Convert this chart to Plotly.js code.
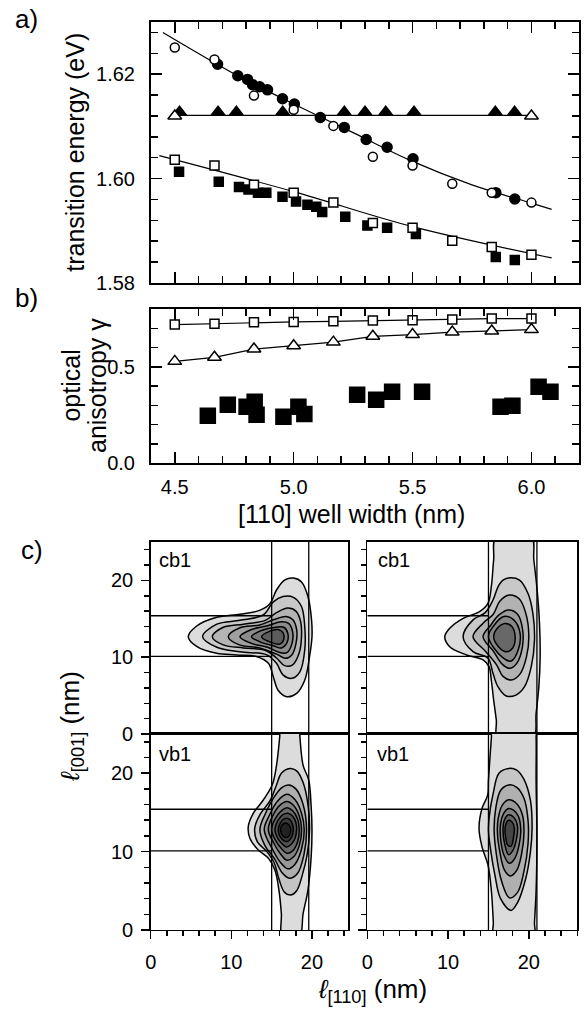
<!DOCTYPE html>
<html><head><meta charset="utf-8">
<script src="https://cdn.plot.ly/plotly-3.0.1.min.js"></script>
<style>html,body{margin:0;padding:0;background:#fff}#chart{width:588px;height:1011px}</style>
</head><body><div id="chart"></div>
<script>
// ---------- Panel a data ----------
const widthsCalc = [4.5, 4.667, 4.833, 5.0, 5.167, 5.333, 5.5, 5.667, 5.833, 6.0];
const aOpenCircleE = [1.6251, 1.6228, 1.6159, 1.6132, 1.6101, 1.6042, 1.6025, 1.5990, 1.5973, 1.5954];
const aOpenSquareE = [1.6036, 1.6025, 1.5988, 1.5973, 1.5954, 1.5915, 1.5906, 1.5881, 1.5869, 1.5854];
const aOpenTriW = [4.5, 6.0];
const aOpenTriE = [1.6120, 1.6120];
const aFillTriW = [4.52, 4.682, 4.759, 4.954, 5.213, 5.30, 5.387, 5.506, 5.848, 5.929];
const aFillTriE = [1.6127, 1.6127, 1.6127, 1.6127, 1.6127, 1.6127, 1.6127, 1.6127, 1.6127, 1.6127];
const aFillCircleW = [4.68, 4.765, 4.806, 4.827, 4.857, 4.89, 4.953, 5.003, 5.112, 5.213, 5.305, 5.393, 5.502, 5.85, 5.93];
const aFillCircleE = [1.6219, 1.6197, 1.6190, 1.6180, 1.6176, 1.6170, 1.6153, 1.6143, 1.6117, 1.6098, 1.6075, 1.6060, 1.6038, 1.5973, 1.5961];
const aFillSquareW = [4.518, 4.685, 4.77, 4.81, 4.85, 4.885, 4.953, 5.01, 5.058, 5.095, 5.12, 5.217, 5.31, 5.393, 5.514, 5.85, 5.93];
const aFillSquareE = [1.6013, 1.5994, 1.5984, 1.5979, 1.5973, 1.5973, 1.5965, 1.5956, 1.5950, 1.5946, 1.5936, 1.5927, 1.5910, 1.5906, 1.5894, 1.5850, 1.5844];
const fitCircleW = [4.45, 4.765, 5.0, 5.25, 5.5, 5.75, 6.0, 6.085];
const fitCircleE = [1.6280, 1.6197, 1.6143, 1.6088, 1.6033, 1.5988, 1.5953, 1.5941];
const fitSquareW = [4.435, 5.0, 5.5, 6.085];
const fitSquareE = [1.6044, 1.5975, 1.5908, 1.5848];
const fitTriW = [4.5, 6.0];
const fitTriE = [1.6121, 1.6121];

// ---------- Panel b data ----------
const bOpenSquareG = [0.719, 0.724, 0.731, 0.733, 0.736, 0.740, 0.741, 0.745, 0.750, 0.750];
const bOpenTriG = [0.528, 0.549, 0.592, 0.609, 0.628, 0.658, 0.667, 0.680, 0.686, 0.693];
const bFillSquareW = [4.639, 4.723, 4.802, 4.836, 4.844, 4.957, 5.02, 5.045, 5.267, 5.347, 5.414, 5.54, 5.87, 5.92, 6.03, 6.08];
const bFillSquareG = [0.245, 0.302, 0.292, 0.318, 0.250, 0.240, 0.292, 0.255, 0.354, 0.328, 0.370, 0.370, 0.292, 0.297, 0.396, 0.370];

// ---------- Panel c data (contour outlines, [l110, l001] in nm) ----------
const wellEdgesLeft = [15.0, 19.6];
const wellEdgesRight = [15.0, 21.0];
const wireEdges = [10.1, 15.4];
const cbLeft = [
 [[4.66,12.67],[5.7,14.06],[8.18,15.2],[11.07,15.6],[13.5,16.1],[14.8,17.0],[15.6,18.75],[16.6,20.05],[17.7,20.3],[18.7,19.8],[19.5,17.9],[19.95,14.8],[20.0,12.67],[19.7,10.1],[19.1,7.0],[18.1,5.3],[16.85,4.86],[15.8,5.7],[15.2,7.46],[14.6,9.2],[13.1,10.1],[10.66,10.3],[8.18,10.5],[5.7,11.4]],
 [[6.44,12.67],[8.2,14.3],[11.07,14.8],[13.95,15.5],[15.2,17.2],[16.4,17.9],[17.7,17.8],[18.7,16.6],[19.1,14.0],[19.1,10.9],[18.5,8.1],[17.5,7.25],[16.4,7.7],[15.6,9.2],[14.4,10.3],[11.07,10.7],[8.2,11.3]],
 [[7.64,12.67],[9.0,13.9],[11.5,14.3],[14.2,14.8],[15.6,15.8],[17.0,16.4],[18.0,16.0],[18.6,14.6],[18.7,12.67],[18.4,10.5],[17.6,9.0],[16.6,8.9],[15.6,9.9],[14.2,10.9],[11.5,11.2],[9.0,11.6]],
 [[9.62,12.67],[11.0,13.8],[13.5,14.2],[15.3,14.9],[16.8,15.3],[17.6,14.9],[18.1,13.6],[18.0,11.7],[17.5,10.3],[16.7,9.85],[15.6,10.4],[13.5,11.2],[11.0,11.6]],
 [[11.07,12.67],[12.5,13.6],[14.5,14.1],[16.2,14.6],[17.1,14.4],[17.6,13.3],[17.5,11.7],[16.9,10.6],[16.0,10.6],[14.5,11.3],[12.5,11.8]],
 [[12.5,12.67],[13.8,13.5],[15.5,13.9],[16.5,13.9],[17.0,13.1],[16.9,11.9],[16.2,11.2],[15.2,11.5],[13.8,11.9]],
 [[13.75,12.67],[14.8,13.4],[15.8,13.6],[16.4,13.2],[16.5,12.3],[16.0,11.7],[15.0,11.9]]
];
const cbRight = [
 [[15.97,25.7],[15.64,22.66],[15.35,19.18],[14.94,17.0],[13.9,15.93],[11.86,15.06],[10.2,13.76],[9.59,12.67],[10.2,11.37],[12.27,10.29],[14.33,9.64],[15.07,8.77],[15.35,7.03],[15.64,4.43],[15.97,1.82],[16.17,-0.78],[20.49,-0.78],[20.9,2.69],[21.24,6.16],[21.4,10.07],[21.32,14.41],[21.03,18.75],[20.62,22.66],[20.29,25.7]],
 [[11.86,12.67],[13.09,14.86],[14.6,15.8],[15.56,17.45],[16.2,19.2],[16.8,20.05],[17.7,20.35],[18.85,20.05],[19.9,18.3],[20.5,15.7],[20.7,12.24],[20.3,8.77],[19.47,6.16],[18.4,5.07],[17.2,4.95],[16.17,6.16],[15.56,7.9],[14.94,9.85],[13.09,10.72]],
 [[13.09,12.67],[14.3,14.4],[15.6,15.6],[16.4,17.3],[17.6,18.1],[18.8,17.6],[19.6,15.8],[20.0,12.8],[19.7,10.0],[18.9,7.8],[17.8,7.03],[16.8,7.5],[16.0,9.0],[14.6,10.8]],
 [[14.33,12.67],[15.3,14.2],[16.3,15.5],[17.5,16.15],[18.6,15.6],[19.2,13.8],[19.2,11.3],[18.5,9.2],[17.6,8.55],[16.7,9.1],[15.6,10.8]],
 [[15.0,12.67],[15.8,14.3],[16.9,15.3],[18.1,14.9],[18.9,13.2],[18.7,11.0],[17.8,9.5],[16.7,10.0]],
 [[15.64,12.67],[16.2,13.9],[17.0,14.4],[17.9,14.0],[18.3,12.7],[18.0,11.2],[17.2,10.7],[16.3,11.3]]
];
const vbLeft = [
 [[16.1,26],[16.0,24.66],[15.6,21.0],[15.1,18.6],[13.96,16.58],[12.72,14.88],[12.1,13.2],[12.3,11.7],[13.34,10.2],[14.6,9.14],[15.4,7.65],[15.9,5.1],[16.2,2.1],[16.35,-1],[18.4,-1],[18.9,2.1],[19.5,5.1],[19.9,9.35],[20.0,12.76],[19.9,15.7],[19.6,19.1],[18.9,21.0],[18.5,24.66],[18.4,26]],
 [[12.9,13.0],[13.2,11.3],[14.4,10.0],[15.3,8.6],[15.9,6.5],[16.6,4.8],[17.4,4.46],[18.1,5.0],[18.8,7.0],[19.4,9.6],[19.7,12.8],[19.5,16.0],[18.9,18.8],[18.1,20.3],[17.26,20.6],[16.2,20.0],[15.6,18.5],[14.8,16.5],[13.6,14.8]],
 [[13.54,12.8],[14.2,10.7],[15.4,9.0],[16.3,7.3],[17.2,6.6],[18.2,7.2],[19.0,9.6],[19.33,12.8],[18.9,16.0],[18.0,18.0],[17.1,18.5],[16.3,18.2],[15.2,16.8],[14.2,14.8]],
 [[14.08,12.8],[15.1,10.3],[16.1,8.6],[17.0,7.8],[17.9,8.4],[18.7,10.3],[19.04,12.8],[18.7,14.9],[17.9,16.6],[16.9,17.3],[15.7,16.4],[14.7,14.6]],
 [[14.58,12.8],[15.3,11.0],[16.1,9.7],[16.9,8.9],[17.7,9.3],[18.4,10.7],[18.71,12.8],[18.4,14.6],[17.7,15.9],[16.9,16.4],[16.0,15.9],[15.1,14.5]],
 [[14.99,12.8],[15.5,11.4],[16.2,10.4],[16.9,9.8],[17.6,10.1],[18.2,11.2],[18.42,12.8],[18.2,14.2],[17.6,15.2],[16.9,15.6],[16.3,15.3],[15.5,14.3]],
 [[15.4,12.8],[15.7,11.8],[16.2,11.1],[16.8,10.6],[17.4,10.9],[17.9,11.7],[18.09,12.8],[18.0,13.7],[17.6,14.5],[17.0,14.9],[16.4,14.7],[15.8,14.0]],
 [[15.82,12.8],[16.0,12.0],[16.5,11.4],[17.0,11.3],[17.5,11.9],[17.68,12.8],[17.5,13.7],[17.1,14.2],[16.6,14.2],[16.1,13.7]],
 [[16.1,12.8],[16.4,12.0],[16.9,11.8],[17.3,12.3],[17.3,13.1],[16.9,13.6],[16.4,13.5]]
];
const vbRight = [
 [[15.5,26],[15.36,24.5],[15.0,19.1],[14.9,17.2],[14.2,15.5],[13.83,13.0],[14.2,10.6],[14.94,8.3],[15.35,5.1],[15.6,1.0],[15.7,-1],[20.6,-1],[20.7,1.0],[20.9,5.0],[21.0,12.0],[20.9,19.0],[20.9,24.5],[20.8,26]],
 [[17.5,20.6],[16.3,20.0],[15.6,17.5],[15.1,14.5],[15.0,12.7],[15.3,10.0],[15.8,7.0],[16.5,4.0],[17.8,2.5],[18.6,3.5],[19.6,6.5],[20.2,10.0],[20.4,13.0],[20.2,16.5],[19.4,19.2],[18.5,20.4]],
 [[17.5,18.5],[16.5,17.8],[15.9,15.5],[15.7,12.7],[16.0,9.5],[16.6,6.3],[17.6,4.1],[18.6,4.8],[19.4,7.5],[19.9,11.0],[19.9,14.0],[19.4,16.8],[18.5,18.2]],
 [[17.5,16.6],[16.7,15.9],[16.2,14.2],[16.1,12.7],[16.4,10.0],[17.0,7.6],[17.7,6.9],[18.5,7.6],[19.1,9.7],[19.4,12.4],[19.2,14.7],[18.5,16.1]],
 [[17.5,15.5],[16.9,14.9],[16.5,13.6],[16.5,11.7],[16.9,9.6],[17.6,8.5],[18.3,9.2],[18.8,10.9],[19.0,12.8],[18.7,14.5],[18.1,15.3]],
 [[17.5,14.7],[17.0,14.1],[16.8,12.8],[17.0,11.0],[17.5,9.6],[18.1,10.3],[18.5,11.8],[18.6,13.2],[18.2,14.3]],
 [[17.5,14.0],[17.1,13.3],[17.1,12.0],[17.4,10.8],[17.8,10.7],[18.1,11.8],[18.2,13.0],[17.9,13.8]]
];
const shadesCbLeft = ['#dcdcdc','#c8c8c8','#b4b4b4','#a0a0a0','#8c8c8c','#787878','#5c5c5c'];
const shadesCbRight = ['#dcdcdc','#c8c8c8','#b2b2b2','#9c9c9c','#868686','#686868'];
const shadesVbLeft = ['#dcdcdc','#c4c4c4','#aeaeae','#989898','#808080','#686868','#505050','#383838','#222222'];
const shadesVbRight = ['#dcdcdc','#c6c6c6','#b0b0b0','#989898','#808080','#646464','#464646'];

// ---------- build ----------
const FONT = '"Liberation Sans", Arial, Helvetica, sans-serif';
const traces = [];
function line(x, y, xa, ya) {
  traces.push({x, y, xaxis: xa, yaxis: ya, mode: 'lines', line: {color: 'black', width: 1.2, shape: 'spline'}, hoverinfo: 'skip', showlegend: false});
}
function pts(x, y, xa, ya, symbol, size, fill, mode) {
  traces.push({x, y, xaxis: xa, yaxis: ya, mode: mode || 'markers',
    line: {color: 'black', width: 1.2},
    marker: {symbol, size, color: fill, line: {color: 'black', width: 1.5}}, showlegend: false});
}
// panel a
line(fitCircleW, fitCircleE, 'x', 'y');
line(fitSquareW, fitSquareE, 'x', 'y');
line(fitTriW, fitTriE, 'x', 'y');
pts(aFillTriW, aFillTriE, 'x', 'y', 'triangle-up', 12, 'black');
pts(aFillCircleW, aFillCircleE, 'x', 'y', 'circle', 10, 'black');
pts(aFillSquareW, aFillSquareE, 'x', 'y', 'square', 9, 'black');
pts(widthsCalc, aOpenCircleE, 'x', 'y', 'circle', 9, 'white');
pts(widthsCalc, aOpenSquareE, 'x', 'y', 'square', 9, 'white');
pts(aOpenTriW, aOpenTriE, 'x', 'y', 'triangle-up', 12, 'white');
// panel b
pts(widthsCalc, bOpenSquareG, 'x2', 'y2', 'square', 9, 'white', 'lines+markers');
pts(widthsCalc, bOpenTriG, 'x2', 'y2', 'triangle-up', 12, 'white', 'lines+markers');
pts(bFillSquareW, bFillSquareG, 'x2', 'y2', 'square', 15, 'black');
// panel c
function contours(list, shades, xa, ya) {
  list.forEach((c, i) => {
    const closed = c.concat([c[0]]);
    traces.push({x: closed.map(p => p[0]), y: closed.map(p => p[1]), xaxis: xa, yaxis: ya,
      mode: 'lines', fill: 'toself', fillcolor: shades[i],
      line: {color: 'black', width: 1.5, shape: 'spline', smoothing: 1}, hoverinfo: 'skip', showlegend: false});
  });
}
contours(cbLeft, shadesCbLeft, 'x3', 'y3');
contours(vbLeft, shadesVbLeft, 'x4', 'y4');
contours(cbRight, shadesCbRight, 'x5', 'y5');
contours(vbRight, shadesVbRight, 'x6', 'y6');

const tickFont = {family: FONT, size: 20, color: 'black'};
function abAxis(o) {
  const minorD = o.minorD; delete o.minorD;
  return Object.assign({showline: true, linewidth: 2, linecolor: 'black', mirror: 'ticks',
    ticks: 'inside', ticklen: 11, tickwidth: 1.5, tickcolor: 'black', showgrid: false, zeroline: false,
    tickfont: tickFont, ticklabelstandoff: 8,
    minor: {dtick: minorD, ticks: 'inside', ticklen: 7, tickwidth: 1.5, tickcolor: 'black', showgrid: false}}, o);
}
function cAxis(o) {
  return Object.assign({showline: true, linewidth: 1.5, linecolor: 'black', mirror: true,
    ticks: 'outside', ticklen: 8, tickwidth: 1.5, tickcolor: 'black', showgrid: false, zeroline: false,
    tickfont: tickFont, dtick: 10, tick0: 0, ticklabelstandoff: 4,
    minor: {dtick: 2, ticks: 'outside', ticklen: 5, tickwidth: 1.5, tickcolor: 'black', showgrid: false}}, o);
}
const abX = [0.2568, 0.9847];
const cL = [0.2563, 0.5923], cR = [0.6247, 0.9818];
const cbY = [0.27399, 0.46390], vbY = [0.08012, 0.27399];

const layout = {
  width: 588, height: 1011, margin: {l: 0, r: 0, t: 0, b: 0},
  paper_bgcolor: 'white', plot_bgcolor: 'white', showlegend: false,
  font: {family: FONT, color: 'black'},
  xaxis: abAxis({domain: abX, range: [4.4, 6.2], dtick: 0.5, tick0: 0, minorD: 0.1, showticklabels: false, anchor: 'y'}),
  yaxis: abAxis({domain: [0.72008, 0.97824], range: [1.58, 1.63], dtick: 0.02, tick0: 0, minorD: 0.004, tickformat: '.2f', anchor: 'x', ticklabelstandoff: 10}),
  xaxis2: abAxis({domain: abX, range: [4.4, 6.2], dtick: 0.5, tick0: 0, minorD: 0.1, tickformat: '.1f', anchor: 'y2', ticklabelstandoff: 5}),
  yaxis2: abAxis({domain: [0.54204, 0.69436], range: [0, 0.8], dtick: 0.5, tick0: 0, minorD: 0.1, tickformat: '.1f', anchor: 'x2', ticklabelstandoff: 10}),
  xaxis3: cAxis({domain: cL, range: [0, 24.5], anchor: 'y3', ticks: '', showticklabels: false, minor: {ticks: ''}}),
  yaxis3: cAxis({domain: cbY, range: [0, 25], anchor: 'x3'}),
  xaxis4: cAxis({domain: cL, range: [0, 24.5], anchor: 'y4', ticklabelstandoff: 6}),
  yaxis4: cAxis({domain: vbY, range: [0, 25], anchor: 'x4'}),
  xaxis5: cAxis({domain: cR, range: [0, 26], anchor: 'y5', ticks: '', showticklabels: false, minor: {ticks: ''}}),
  yaxis5: cAxis({domain: cbY, range: [0, 25], anchor: 'x5', showticklabels: false}),
  xaxis6: cAxis({domain: cR, range: [0, 26], anchor: 'y6', ticklabelstandoff: 6}),
  yaxis6: cAxis({domain: vbY, range: [0, 25], anchor: 'x6', showticklabels: false}),
  shapes: [],
  annotations: []
};
// well / wire boundary lines in panel c
[['x3', 'y3', 'y4', wellEdgesLeft], ['x5', 'y5', 'y6', wellEdgesRight]].forEach(([xa, ya1, ya2, edges]) => {
  edges.forEach(e => layout.shapes.push({type: 'line', xref: xa, yref: 'paper', x0: e, x1: e, y0: vbY[0], y1: cbY[1], line: {color: 'black', width: 1.3}}));
  [ya1, ya2].forEach(ya => wireEdges.forEach(w => layout.shapes.push({type: 'line', xref: xa, yref: ya, x0: 0, x1: edges[0], y0: w, y1: w, line: {color: 'black', width: 1.3}})));
});
function ann(text, x, y, size, extra) {
  layout.annotations.push(Object.assign({text, x, y, xref: 'paper', yref: 'paper', showarrow: false,
    font: {family: FONT, size, color: 'black'}, xanchor: 'center', yanchor: 'middle'}, extra || {}));
}
ann('a)', 0.022, 0.981, 26, {xanchor: 'left'});
ann('b)', 0.022, 0.7052, 26, {xanchor: 'left'});
ann('c)', 0.032, 0.456, 26, {xanchor: 'left'});
ann('transition energy (eV)', 0.128, 0.8492, 25, {textangle: -90});
ann('optical', 0.120, 0.6182, 25, {textangle: -90});
ann('anisotropy γ', 0.165, 0.6182, 25, {textangle: -90});
ann('[110] well width (nm)', 0.5986, 0.4916, 25);
ann('<i>ℓ</i><sub>[001]</sub> (nm)', 0.122, 0.282, 26, {textangle: -90});
ann('<i>ℓ</i><sub>[110]</sub> (nm)', 0.633, 0.002, 26, {yanchor: 'bottom'});
ann('cb1', 0.2670, 0.4461, 20, {xanchor: 'left'});
ann('cb1', 0.639, 0.4461, 20, {xanchor: 'left'});
ann('vb1', 0.2670, 0.2542, 20, {xanchor: 'left'});
ann('vb1', 0.637, 0.2542, 20, {xanchor: 'left'});

Plotly.newPlot('chart', traces, layout, {staticPlot: true, displayModeBar: false});
</script></body></html>
